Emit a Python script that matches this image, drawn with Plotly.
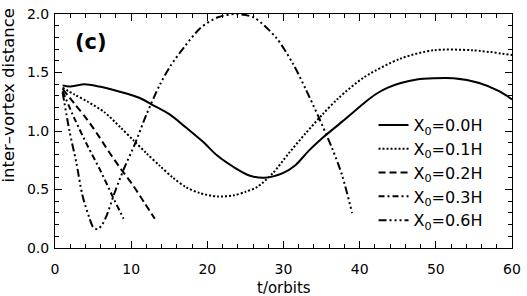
import plotly.graph_objects as go

# ---- data ----
t_x00 = [1.0, 1.9, 3.9, 5.8, 7.7, 9.9, 11.2, 12.9, 15.1, 17.2, 19.4, 21.3, 23.5, 25.5, 27.5,
         29.9, 31.6, 33.3, 35.1, 37.7, 40.6, 42.0, 43.7, 45.4, 47.5, 49.7, 52.3, 55.7, 58.3, 60.0]
y_x00 = [1.39, 1.38, 1.40, 1.38, 1.35, 1.31, 1.28, 1.22, 1.14, 1.03, 0.91, 0.79, 0.69, 0.62, 0.60,
         0.64, 0.71, 0.83, 0.94, 1.08, 1.24, 1.31, 1.37, 1.41, 1.44, 1.45, 1.45, 1.41, 1.34, 1.27]

t_x01 = [1.0, 2.6, 4.3, 6.5, 8.6, 10.3, 12.0, 13.8, 15.5, 17.2, 19.0, 21.3, 23.5, 25.0, 26.5,
         28.6, 30.7, 32.9, 35.1, 37.2, 40.6, 45.4, 49.7, 54.8, 60.0]
y_x01 = [1.37, 1.31, 1.25, 1.16, 1.03, 0.92, 0.81, 0.70, 0.60, 0.52, 0.47, 0.44, 0.45, 0.48, 0.52,
         0.64, 0.81, 0.98, 1.14, 1.28, 1.46, 1.62, 1.69, 1.69, 1.65]

t_x02 = [1.0, 2.6, 4.2, 5.7, 7.1, 8.6, 10.3, 11.7, 13.1]
y_x02 = [1.36, 1.23, 1.10, 0.96, 0.82, 0.68, 0.53, 0.39, 0.25]

t_x03 = [1.0, 2.6, 4.3, 5.9, 7.5, 9.0]
y_x03 = [1.34, 1.10, 0.87, 0.67, 0.45, 0.25]

t_x06 = [1.0, 1.9, 2.8, 3.6, 4.5, 5.0, 5.6, 6.2, 6.8, 7.7, 9.0, 10.5, 12.0, 13.8, 15.2, 17.0,
         19.1, 21.3, 23.7, 26.1, 29.0, 31.2, 32.9, 34.6, 36.4, 37.7, 39.0]
y_x06 = [1.33, 1.00, 0.73, 0.45, 0.26, 0.18, 0.16, 0.20, 0.28, 0.45, 0.67, 0.89, 1.14, 1.40, 1.56, 1.72,
         1.88, 1.97, 2.00, 1.97, 1.80, 1.58, 1.36, 1.12, 0.85, 0.62, 0.30]

series_names = ["X<sub>0</sub>=0.0H", "X<sub>0</sub>=0.1H", "X<sub>0</sub>=0.2H",
                "X<sub>0</sub>=0.3H", "X<sub>0</sub>=0.6H"]

x_ticks = [0, 10, 20, 30, 40, 50, 60]
y_ticks = [0.0, 0.5, 1.0, 1.5, 2.0]
y_ticklabels = ["0.0", "0.5", "1.0", "1.5", "2.0"]

panel_label = "(c)"
x_title = "t/orbits"
y_title = "inter\u2013vortex distance"

# ---- figure ----
series = [(t_x00, y_x00), (t_x01, y_x01), (t_x02, y_x02), (t_x03, y_x03), (t_x06, y_x06)]
dashes = ["solid", "2px,2px", "7px,4px", "6px,3px,2px,3px",
          "8px,3px,2px,3px,2px,3px,2px,3px"]

fig = go.Figure()
for i, ((tx, ty), name, d) in enumerate(zip(series, series_names, dashes)):
    fig.add_trace(go.Scatter(
        x=tx, y=ty, mode="lines", name=name, legendgroup=f"g{i}",
        line=dict(color="black", width=2, dash=d, shape="spline", smoothing=0.8),
    ))

font_main = "DejaVu Sans"
axis_common = dict(
    showline=True, linecolor="black", linewidth=1, mirror="allticks",
    ticks="inside", ticklen=7, tickwidth=1, tickcolor="black",
    showgrid=False, zeroline=False, ticklabeloverflow="allow",
    tickfont=dict(family=font_main, size=14, color="black"),
)
fig.update_xaxes(range=[0, 60], tickvals=x_ticks,
                 minor=dict(dtick=2, ticks="inside", ticklen=4, tickcolor="black", showgrid=False),
                 ticklabelstandoff=8, **axis_common)
fig.update_yaxes(range=[0, 2.0], tickvals=y_ticks, ticktext=y_ticklabels,
                 minor=dict(dtick=0.1, ticks="inside", ticklen=4, tickcolor="black", showgrid=False),
                 ticklabelstandoff=2, **axis_common)

fig.add_annotation(text=panel_label, xref="paper", yref="paper", x=0.078, y=0.882,
                   showarrow=False, font=dict(family=font_main, size=21, color="black", weight="bold"),
                   xanchor="center", yanchor="middle")
fig.add_annotation(text=x_title, xref="paper", yref="paper", x=0.5, y=-0.169,
                   showarrow=False, font=dict(family=font_main, size=15, color="black"),
                   xanchor="center", yanchor="middle")
fig.add_annotation(text=y_title, xref="paper", yref="paper", x=-0.101, y=0.655,
                   showarrow=False, textangle=-90,
                   font=dict(family=font_main, size=16.5, color="black"),
                   xanchor="center", yanchor="middle")

fig.update_layout(
    width=527, height=296,
    margin=dict(l=55, r=8, t=6, b=48),
    paper_bgcolor="white", plot_bgcolor="white",
    showlegend=True,
    legend=dict(x=0.697, y=0.598, xanchor="left", yanchor="top",
                bgcolor="rgba(0,0,0,0)", borderwidth=0, tracegroupgap=0,
                font=dict(family=font_main, size=16, color="black"),
                itemwidth=30),
)

fig.write_html("out.html", config={"displayModeBar": False},
               post_script="document.body.style.margin='0';")
